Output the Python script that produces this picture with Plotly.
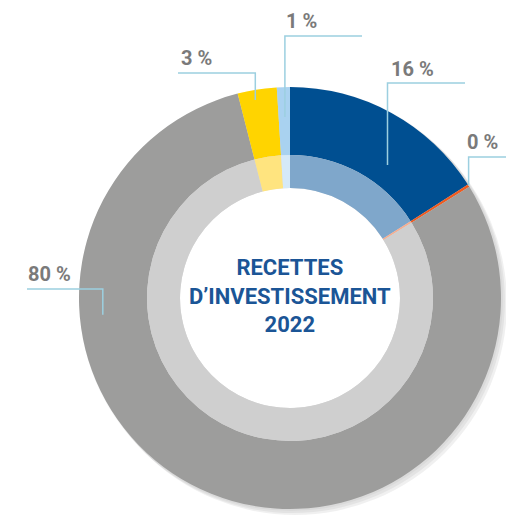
import math
import plotly.graph_objects as go

# données
categories = ["Emprunts", "Autres", "Dotations et subventions", "Cessions", "Divers"]
values = [16, 0.2, 80, 3, 1]
labels = ["16 %", "0 %", "80 %", "3 %", "1 %"]
title_lines = ["RECETTES", "D’INVESTISSEMENT", "2022"]

outer_colors = ["#004f91", "#f05a1e", "#9d9d9c", "#ffd400", "#a9d2f0"]
inner_colors = ["#7fa7cb", "#f7ad8f", "#cfcfcf", "#ffe47f", "#d5e9f8"]

W, H = 514, 517
OFF = 8  # marge du body html
CX, CY = 290, 298
R_OUT, R_MID, R_HOLE = 211, 143, 110
LINE = "#9ccfe0"
LABEL_GREY = "#7a7a7a"
BLUE_TXT = "#1b5596"
FONT = "Roboto, sans-serif"

# position des étiquettes (fraction dans la part, rayon, coude y, fin x, texte x, texte y)
lab_frac = [0.63, 0.5, 0.719, 0.41, 0.55]
lab_r = [165, 211, 188, 201, 181]
lab_elbow_y = [83, 157, 289, 73, 36]
lab_end_x = [465, 514, 27, 178, 362]
lab_txt_x = [389, 465, 26, 179, 284]
lab_txt_y = [69, 142, 274, 58, 21]

PW, PH = W - OFF, H - OFF


def dom(r):
    cx, cy = CX - OFF, CY - OFF
    return dict(x=[(cx - r) / PW, (cx + r) / PW], y=[1 - (cy + r) / PH, 1 - (cy - r) / PH])


fig = go.Figure()
pie_style = dict(sort=False, direction="clockwise", rotation=0, textinfo="none",
                 hoverinfo="label+value", showlegend=False)
fig.add_trace(go.Pie(labels=categories, values=values, domain=dom(R_OUT), hole=R_MID / R_OUT,
                     marker=dict(colors=outer_colors, line=dict(width=0)), **pie_style))
fig.add_trace(go.Pie(labels=categories, values=values, domain=dom(R_MID), hole=R_HOLE / R_MID,
                     marker=dict(colors=inner_colors, line=dict(width=0)), **pie_style))

# ombre légère
shapes = []
for i, a in enumerate([0.04, 0.05, 0.06]):
    d = 1 + i * 2
    shapes.append(dict(type="circle", xref="x", yref="y", layer="below",
                       x0=CX - R_OUT + d - 1, x1=CX + R_OUT + d + 1, y0=CY - R_OUT + d - 1, y1=CY + R_OUT + d + 1,
                       fillcolor=f"rgba(0,0,0,{a})", line=dict(width=0)))
shapes.append(dict(type="circle", xref="x", yref="y", layer="below",
                   x0=CX - R_HOLE, x1=CX + R_HOLE, y0=CY - R_HOLE, y1=CY + R_HOLE,
                   fillcolor="white", line=dict(width=0)))

total = sum(values)
start = 0
annotations = []
for i, v in enumerate(values):
    ang = (start + lab_frac[i] * v) / total * 2 * math.pi
    start += v
    ax = CX + lab_r[i] * math.sin(ang)
    ay = CY - lab_r[i] * math.cos(ang)
    shapes.append(dict(type="path", xref="x", yref="y",
                       path=f"M {ax:.1f},{ay:.1f} L {ax:.1f},{lab_elbow_y[i]} L {lab_end_x[i]},{lab_elbow_y[i]}",
                       line=dict(color=LINE, width=1.5)))
    annotations.append(dict(x=lab_txt_x[i], y=lab_txt_y[i], xref="x", yref="y", text=labels[i],
                            showarrow=False, xanchor="left", yanchor="middle",
                            font=dict(family=FONT, size=20, color=LABEL_GREY, weight="bold")))

annotations.append(dict(x=CX, y=296, xref="x", yref="y", text="<br>".join(title_lines),
                        showarrow=False, xanchor="center", yanchor="middle", align="center",
                        font=dict(family=FONT, size=22, color=BLUE_TXT, weight="bold")))

fig.update_layout(
    width=PW, height=PH,
    margin=dict(l=0, r=0, t=0, b=0),
    paper_bgcolor="white", plot_bgcolor="rgba(0,0,0,0)",
    xaxis=dict(range=[OFF, W], visible=False, fixedrange=True),
    yaxis=dict(range=[H, OFF], visible=False, fixedrange=True),
    shapes=shapes, annotations=annotations,
)
fig.write_html("out.html")
